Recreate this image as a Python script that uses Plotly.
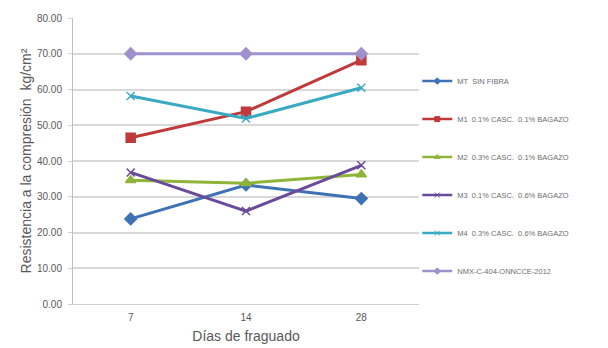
import plotly.graph_objects as go

dias = ["7", "14", "28"]

mt_sin_fibra = [23.8, 33.3, 29.5]
m1 = [46.5, 53.8, 68.2]
m2 = [34.6, 33.8, 36.2]
m3 = [36.8, 26.0, 38.8]
m4 = [58.2, 51.9, 60.5]
norma = [70.0, 70.0, 70.0]

nombres = [
    "MT  SIN FIBRA",
    "M1  0.1% CASC.  0.1% BAGAZO",
    "M2  0.3% CASC.  0.1% BAGAZO",
    "M3  0.1% CASC.  0.6% BAGAZO",
    "M4  0.3% CASC.  0.6% BAGAZO",
    "NMX-C-404-ONNCCE-2012",
]
series = [mt_sin_fibra, m1, m2, m3, m4, norma]
colores = ["#3f72b5", "#c0393b", "#8fb43a", "#6a4a9a", "#3aa9c2", "#9d92cc"]
simbolos = ["diamond", "square", "triangle-up", "x-thin", "x-thin", "diamond"]
tamanos = [9, 9, 9, 8, 8, 9]

fig = go.Figure()
for i, (nombre, vals) in enumerate(zip(nombres, series)):
    # data line
    fig.add_trace(go.Scatter(
        x=dias, y=vals, name=nombre, mode="lines+markers",
        showlegend=False,
        line=dict(color=colores[i], width=3),
        marker=dict(symbol=simbolos[i], size=tamanos[i], color=colores[i],
                    line=dict(color=colores[i], width=1.5)),
    ))
    # compact legend key
    fig.add_trace(go.Scatter(
        x=[None], y=[None], name=nombre, mode="lines+markers",
        legendgroup=f"g{i}",
        line=dict(color=colores[i], width=2.5),
        marker=dict(symbol=simbolos[i], size=5, color=colores[i],
                    line=dict(color=colores[i], width=1)),
    ))

fig.update_layout(
    width=608, height=348,
    margin=dict(l=73, r=189, t=15, b=44),
    paper_bgcolor="white", plot_bgcolor="white",
    font=dict(family="Liberation Sans, Arial, sans-serif", color="#595959"),
    showlegend=True,
    legend=dict(
        x=0.995, y=0.83, xanchor="left", yanchor="top",
        font=dict(size=7.5, color="#6e6e6e"),
        itemwidth=30, tracegroupgap=19, traceorder="grouped",
        bgcolor="rgba(0,0,0,0)",
    ),
)
fig.update_xaxes(
    type="category", range=[-0.5, 2.5], showgrid=False, automargin=False,
    showline=True, linecolor="#d0d0d0", linewidth=1,
    ticks="", ticklabelstandoff=4,
    tickfont=dict(size=10, color="#595959"),
    title=dict(text="Días de fraguado", font=dict(size=14, color="#595959"), standoff=9),
)
fig.update_yaxes(
    range=[0, 80], dtick=10, tickformat=".2f",
    showgrid=True, gridcolor="#d9d9d9", gridwidth=1.5,
    showline=True, linecolor="#bfbfbf", linewidth=1,
    ticks="outside", ticklen=4, tickcolor="#d0d0d0",
    ticklabelstandoff=4,
    tickfont=dict(size=10, color="#595959"),
    zeroline=False,
    title=dict(text="Resistencia a la compresión  kg/cm²",
               font=dict(size=14, color="#595959"), standoff=2),
)

fig.write_html("out.html")
